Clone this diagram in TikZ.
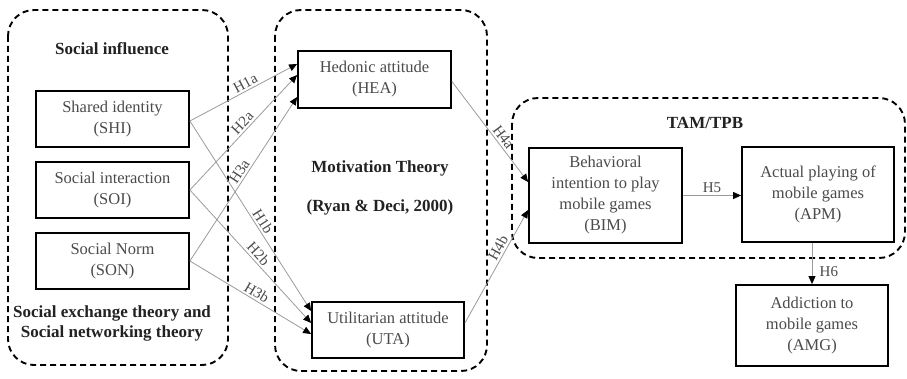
\documentclass[tikz,border=0pt]{standalone}
\usepackage{fontspec}
\setmainfont{Liberation Serif}
\usetikzlibrary{arrows.meta,calc}
\definecolor{boxtext}{HTML}{4A4A4A}
\definecolor{headtext}{HTML}{222222}
\definecolor{conn}{HTML}{9A9A9A}
\tikzset{
  varbox/.style={draw=black, line width=1.8pt, rectangle, align=center, text=boxtext,
    font=\fontsize{16.5}{21}\selectfont, inner sep=0pt},
  groupbox/.style={draw=black, line width=1.9pt, dash pattern=on 6pt off 4pt, rounded corners=26pt},
  heading/.style={font=\fontsize{17}{20}\selectfont\bfseries, text=headtext, align=center, inner sep=0pt},
  hyp/.style={draw=conn, line width=0.8pt, -{Triangle[length=8pt,width=7pt,fill=black,color=black]}},
  hlab/.style={font=\fontsize{15}{16}\selectfont, text=boxtext, sloped, above, inner sep=2pt},
}
\begin{document}
\begin{tikzpicture}[x=1pt,y=-1pt]
\useasboundingbox (0,0) rectangle (907,379);
% group boxes
\draw[groupbox] (8,10) rectangle (228,365);
\draw[groupbox] (275,10) rectangle (487,371);
\draw[groupbox] (512,98) rectangle (905,258);
% headings
\node[heading] (hsi) at (112,49) {Social influence};
\node[heading] (hse) at (112,323.5) {Social exchange theory and\\Social networking theory};
\node[heading] (hmt) at (380,168) {Motivation Theory};
\node[heading] (hrd) at (380,207) {(Ryan \& Deci, 2000)};
\node[heading] (htam) at (705,123) {TAM/TPB};
% variable boxes
\node[varbox, minimum width=153pt, minimum height=56pt] (SHI) at (112.5,119) {Shared identity\\(SHI)};
\node[varbox, minimum width=153pt, minimum height=56pt] (SOI) at (112.5,190) {Social interaction\\(SOI)};
\node[varbox, minimum width=153pt, minimum height=56pt] (SON) at (112.5,261) {Social Norm\\(SON)};
\node[varbox, minimum width=153pt, minimum height=57pt] (HEA) at (374.5,79.5) {Hedonic attitude\\(HEA)};
\node[varbox, minimum width=152pt, minimum height=56pt] (UTA) at (388,330) {Utilitarian attitude\\(UTA)};
\node[varbox, minimum width=153pt, minimum height=95pt] (BIM) at (605.5,195.5) {Behavioral\\intention to play\\mobile games\\(BIM)};
\node[varbox, minimum width=152pt, minimum height=95pt] (APM) at (818,194.5) {Actual playing of\\mobile games\\(APM)};
\node[varbox, minimum width=152pt, minimum height=81pt] (AMG) at (812,325.5) {Addiction to\\mobile games\\(AMG)};
% hypotheses
\draw[hyp] ([yshift=-2pt]SHI.east) -- node[hlab, pos=0.55] {H1a} ([yshift=15.5pt]HEA.west);
\draw[hyp] (SOI.east) -- node[hlab, pos=0.54] {H2a} ([yshift=4.5pt]HEA.west);
\draw[hyp] (SON.east) -- node[hlab, pos=0.52] {H3a} ([yshift=-17.5pt]HEA.west);
\draw[hyp] ([yshift=-2pt]SHI.east) -- node[hlab, pos=0.55] {H1b} ([yshift=19pt]UTA.west);
\draw[hyp] (SOI.east) -- node[hlab, pos=0.52] {H2b} ([yshift=7pt]UTA.west);
\draw[hyp] (SON.east) -- node[hlab, pos=0.52] {H3b} ([yshift=-4pt]UTA.west);
\draw[hyp] ([yshift=-2pt]HEA.east) -- node[hlab, pos=0.6] {H4a} ([yshift=13.5pt]BIM.west);
\draw[hyp] ([yshift=7pt]UTA.east) -- node[hlab, pos=0.63] {H4b} ([yshift=-14.5pt]BIM.west);
\draw[hyp] (BIM.east) -- node[hlab] {H5} (BIM.east -| APM.west);
\draw[hyp] (APM.south -| AMG.north) -- node[font=\fontsize{15}{16}\selectfont, text=boxtext, right=4pt, pos=0.7] {H6} (AMG.north);
\end{tikzpicture}
\end{document}
